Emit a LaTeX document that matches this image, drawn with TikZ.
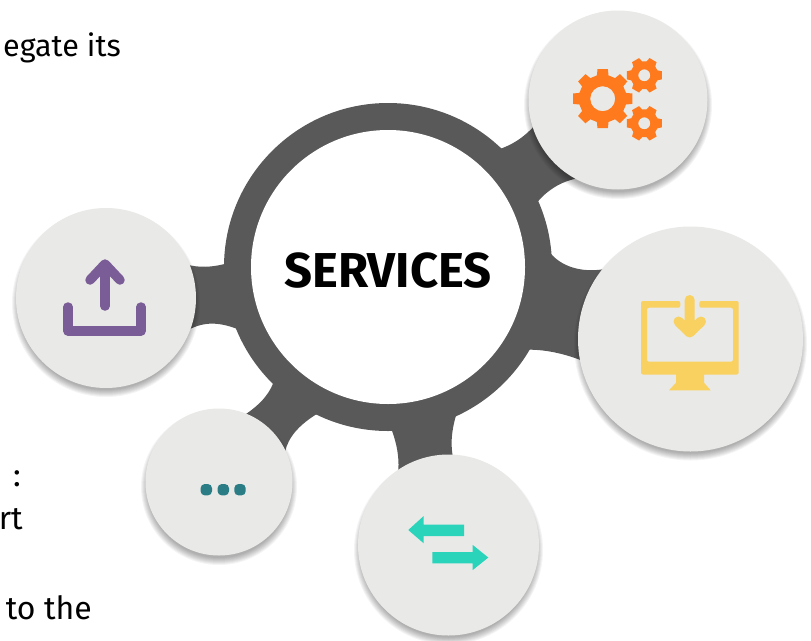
\documentclass[tikz,border=0pt]{standalone}
\usepackage{fontspec}
\setmainfont{Fira Sans}
\definecolor{hubgray}{HTML}{595959}
\definecolor{disc}{HTML}{E9E9E7}
\definecolor{gearc}{HTML}{FF7A1C}
\definecolor{monc}{HTML}{F9D161}
\definecolor{arrc}{HTML}{2AD4BB}
\definecolor{dotc}{HTML}{2A7C85}
\definecolor{upc}{HTML}{7A5C97}
\tikzset{
  sat/.style={circle,fill=disc,inner sep=0pt,outer sep=0pt,minimum size=#1},
  bodytext/.style={font=\fontsize{32}{32}\selectfont,text=black,inner sep=0pt,anchor=base east},
  conn/.style={fill=hubgray},
  icon/.style={line width=9.5pt,line cap=round,line join=round},
  dotmark/.style={fill=dotc,rounded corners=4.2pt},
}
\newcommand{\softshadow}[3]{%
  \foreach \d in {0,1,...,7}{
    \fill[black,opacity=0.045] (#1,#2+5) circle ({#3+4-\d});
  }}
\newcommand{\gearshape}[8]{% cx cy Rout Rin hole n w-in w-out
  \begin{scope}[shift={(#1,#2)}]
    \fill[gearc,even odd rule]
      (0-#7:#4)
      \foreach \k in {1,...,#6}{
        -- ({(\k-1)*360/#6-#8}:#3) -- ({(\k-1)*360/#6+#8}:#3) -- ({(\k-1)*360/#6+#7}:#4)
        -- ({\k*360/#6-#7}:#4)
      } -- cycle
      (0,0) circle (#5);
  \end{scope}}
\begin{document}
\begin{tikzpicture}[x=1pt,y=-1pt]
\useasboundingbox (0,0) rectangle (811,640);
\fill[white] (0,0) rectangle (811,640);
% text fragments
\node[bodytext,font=\fontsize{30.5}{32}\selectfont] (t1) at (121,56) {egate its};
\node[bodytext] (t2) at (21,486) {:};
\node[bodytext] (t3) at (23,529) {rt};
\node[bodytext] (t4) at (92,619) {to the};
% connectors
\fill[conn] (185,264) .. controls (198,268) and (212,268) .. (232,262) -- (240,330) .. controls (220,322) and (205,321) .. (188,330) -- cycle;
\fill[conn] (490,152) .. controls (505,148) and (520,142) .. (535,125) -- (580,178) .. controls (565,180) and (548,188) .. (535,205) -- cycle;
\fill[conn] (545,245) .. controls (555,265) and (580,275) .. (610,268) -- (590,364) .. controls (570,355) and (545,348) .. (520,350) -- cycle;
\fill[conn] (388,420) .. controls (396,440) and (400,455) .. (398,475) -- (456,470) .. controls (450,450) and (450,435) .. (457,412) -- cycle;
\fill[conn] (275,378) .. controls (271,392) and (262,403) .. (246,414) -- (285,452) .. controls (288,438) and (298,425) .. (320,412) -- cycle;
% hub
\node[circle,fill=hubgray,inner sep=0pt,outer sep=0pt,minimum size=328pt] (ring) at (388,267) {};
\node[circle,fill=white,inner sep=0pt,outer sep=0pt,minimum size=274pt] (hub) at (388,267) {};
\node[font=\fontsize{49}{49}\selectfont\bfseries,inner sep=0pt] (hublabel) at (388,270.5) {SERVICES};
% satellites
\softshadow{618}{100}{90}
\node[sat=179pt] (gears) at (618,100) {};
\softshadow{690.5}{339}{112.5}
\node[sat=225pt] (monitor) at (690.5,339) {};
\softshadow{448.5}{545}{90.5}
\node[sat=181pt] (swap) at (448.5,545) {};
\softshadow{219}{482}{74}
\node[sat=147pt] (more) at (219,482) {};
\softshadow{106}{298}{90}
\node[sat=180pt] (upload) at (106,298) {};
% gear icons
\gearshape{602.7}{98.7}{30}{24}{12.5}{8}{14}{10}
\gearshape{644.3}{75.3}{18}{14}{6}{6}{21}{13}
\gearshape{644.3}{123.3}{18}{14}{6}{6}{21}{13}
% monitor icon
\fill[monc,even odd rule,rounded corners=2pt] (641,301) -- (680.3,301) -- (680.3,307.7) -- (647,307.7) -- (647,361.7) -- (733,361.7) -- (733,307.7) -- (699.3,307.7) -- (699.3,301) -- (738.7,301) -- (738.7,374.5) -- (641,374.5) -- cycle;
\fill[monc] (676,374) -- (704,374) -- (704,382.7) -- (710.7,390.3) -- (669,390.3) -- (676,382.7) -- cycle;
\draw[monc,line width=10pt,line cap=round,line join=round] (689.7,300) -- (689.7,332) (678.5,321.5) -- (689.7,332.5) -- (701,321.5);
% swap icon
\fill[arrc] (408.3,530) -- (423.7,516) -- (423.7,524.7) -- (464,524.7) -- (464,536) -- (423.7,536) -- (423.7,543.3) -- cycle;
\fill[arrc] (488.3,557.5) -- (472.7,545) -- (472.7,552) -- (432.3,552) -- (432.3,563.3) -- (472.7,563.3) -- (472.7,570) -- cycle;
% dots
\fill[dotmark] (200.6,484) rectangle (212,495.4);
\fill[dotmark] (217.6,484) rectangle (229,495.4);
\fill[dotmark] (234.3,484) rectangle (245.7,495.4);
% upload icon
\draw[upc,icon] (68,307) -- (68,331) -- (141,331) -- (141,307);
\draw[upc,icon] (105,306) -- (105,265);
\draw[upc,icon] (90,280) -- (105,264) -- (120,280);
\end{tikzpicture}
\end{document}
